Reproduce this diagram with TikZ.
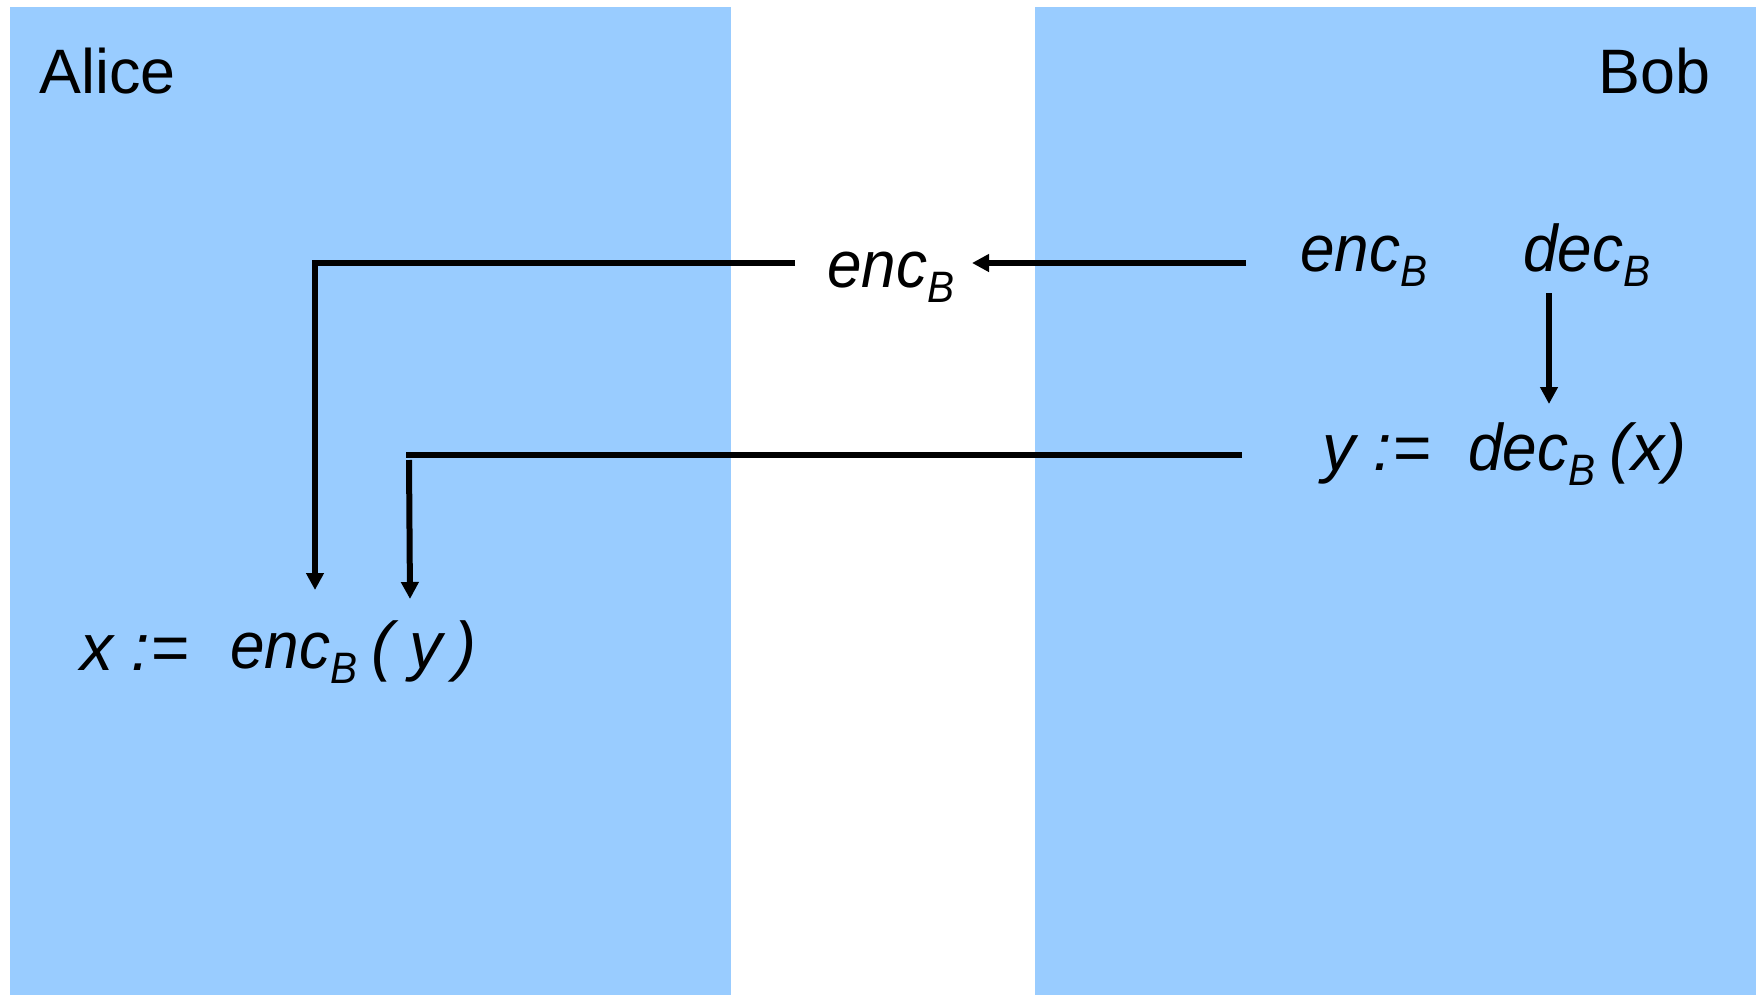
\documentclass[tikz,border=0pt]{standalone}
\usepackage{fontspec}
\usepackage{graphicx}
\setmainfont{Liberation Sans}
\usetikzlibrary{arrows.meta}
\definecolor{panel}{RGB}{153,204,255}
\newcommand\mathtxt{\fontsize{33pt}{33pt}\selectfont\itshape}
\newcommand\subB{\raisebox{-7.5pt}{\fontsize{22pt}{22pt}\selectfont\itshape\scalebox{0.92}[1]{B}}}
\begin{document}
\begin{tikzpicture}[x=0.5pt,y=-0.5pt,
  lbl/.style={inner sep=0pt,anchor=base west,font=\fontsize{31.4pt}{31.4pt}\selectfont},
  mtxt/.style={inner sep=0pt,anchor=base west,font=\mathtxt},
  conn/.style={line width=3pt},
  arr/.style={line width=3pt,-{Triangle[length=8.5pt,width=8.5pt]}}]
\useasboundingbox (0,0) rectangle (1760,995);
\fill[panel] (10,7) rectangle (731,995);
\fill[panel] (1035,7) rectangle (1756,995);
\node[lbl] (alice) at (39,94) {Alice};
\node[lbl,anchor=base east] (bob) at (1711,94) {Bob};
\node[mtxt] (encmid) at (827,287) {\scalebox{0.94}[1]{enc}\subB};
\node[mtxt] (encB) at (1300,271) {\scalebox{0.94}[1]{enc}\subB};
\node[mtxt] (decB) at (1523,271) {\scalebox{0.94}[1]{dec}\subB};
\node[mtxt] (ylhs) at (1322,470) {y :=};
\node[mtxt] (decx) at (1468,470) {\scalebox{0.94}[1]{dec}\subB\hspace{7pt}(x)};
\node[mtxt] (xlhs) at (80,670) {x :=};
\node[mtxt] (ency) at (230,668) {\scalebox{0.94}[1]{enc}\subB\hspace{7pt}(\hspace{8pt}y\hspace{6pt})};
\coordinate (c1s) at (1246,263);
\coordinate (c1e) at (972,263);
\coordinate (c2s) at (795,263);
\coordinate (c2e) at (315,590);
\coordinate (c3s) at (1549,293);
\coordinate (c3e) at (1549,404);
\coordinate (c4s) at (1242,455);
\coordinate (c4m) at (406,455);
\coordinate (c4v) at (409,460);
\coordinate (c4e) at (410,599);
\draw[arr] (c1s) -- (c1e);
\draw[arr] (c2s) -| (c2e);
\draw[arr] (c3s) -- (c3e);
\draw[conn] (c4s) -- (c4m);
\draw[arr] (c4v) -- (c4e);
\end{tikzpicture}
\end{document}
